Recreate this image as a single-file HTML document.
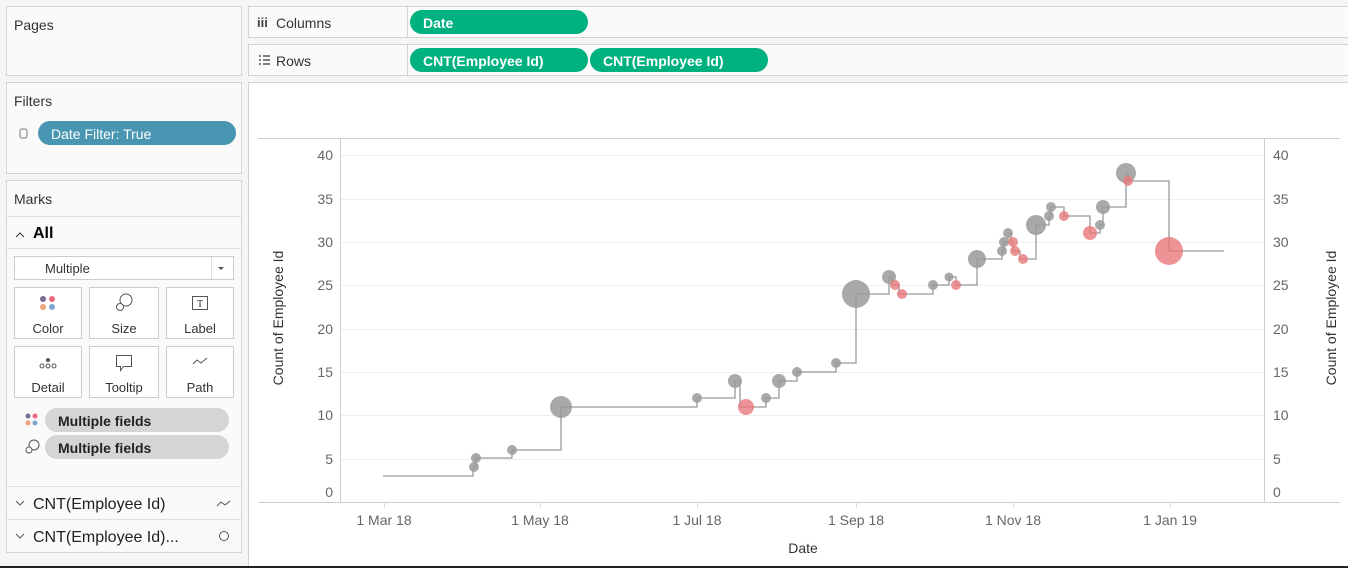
<!DOCTYPE html>
<html><head><meta charset="utf-8"><style>
html,body{margin:0;padding:0;background:#f5f5f5;width:1348px;height:568px;overflow:hidden;font-family:"Liberation Sans",sans-serif;}
</style></head><body>
<svg width="1348" height="568" xmlns="http://www.w3.org/2000/svg" font-family="Liberation Sans, sans-serif">
<rect width="1348" height="568" fill="#f5f5f5"/>
<!-- left panels -->
<rect x="6.5" y="6.5" width="235" height="69" fill="#fafafa" stroke="#d4d4d4"/>
<text x="14" y="30" font-size="14" fill="#333">Pages</text>
<rect x="6.5" y="82.5" width="235" height="91" fill="#fafafa" stroke="#d4d4d4"/>
<text x="14" y="106" font-size="14" fill="#333">Filters</text>
<rect x="20" y="129" width="7" height="9" rx="2" fill="none" stroke="#777"/>
<rect x="38" y="121" width="198" height="24" rx="12" fill="#4996b2"/>
<text x="51" y="139" font-size="14" fill="#fff">Date Filter: True</text>
<rect x="6.5" y="180.5" width="235" height="372" fill="#fafafa" stroke="#d4d4d4"/>
<text x="14" y="204" font-size="14" fill="#333">Marks</text>
<line x1="7" y1="216.5" x2="241" y2="216.5" stroke="#e0e0e0"/>
<path d="M16 237 l4 -4 l4 4" fill="none" stroke="#333"/>
<text x="33" y="238" font-size="16" font-weight="bold" fill="#000">All</text>
<line x1="7" y1="248.5" x2="241" y2="248.5" stroke="#e0e0e0"/>
<rect x="14.5" y="256.5" width="219" height="23" fill="#fff" stroke="#ccc"/>
<line x1="211.5" y1="257" x2="211.5" y2="279" stroke="#ddd"/>
<path d="M218 267 h6 l-3 3z" fill="#555"/>
<text x="45" y="273" font-size="13" fill="#333">Multiple</text>
<g font-size="13" fill="#333" text-anchor="middle">
<rect x="14.5" y="287.5" width="67" height="51" fill="#fff" stroke="#ccc"/>
<circle cx="43" cy="299" r="3" fill="#7b6b8f"/><circle cx="52" cy="299" r="3" fill="#e8697d"/>
<circle cx="43" cy="307" r="3" fill="#f0a07a"/><circle cx="52" cy="307" r="3" fill="#7ea6d1"/>
<text x="48" y="333">Color</text>
<rect x="89.5" y="287.5" width="69" height="51" fill="#fff" stroke="#ccc"/>
<circle cx="126" cy="300" r="6" fill="none" stroke="#555"/><circle cx="120" cy="307" r="3.5" fill="#fff" stroke="#555"/>
<text x="124" y="333">Size</text>
<rect x="166.5" y="287.5" width="67" height="51" fill="#fff" stroke="#ccc"/>
<rect x="192.5" y="296.5" width="15" height="13" fill="none" stroke="#555"/><text x="200" y="307" font-size="10" font-family="Liberation Serif, serif">T</text>
<text x="200" y="333">Label</text>
<rect x="14.5" y="346.5" width="67" height="51" fill="#fff" stroke="#ccc"/>
<circle cx="48" cy="360" r="2" fill="#555"/><circle cx="42" cy="366" r="2" fill="none" stroke="#555"/><circle cx="48" cy="366" r="2" fill="none" stroke="#555"/><circle cx="54" cy="366" r="2" fill="none" stroke="#555"/>
<text x="48" y="392">Detail</text>
<rect x="89.5" y="346.5" width="69" height="51" fill="#fff" stroke="#ccc"/>
<path d="M116.5 355.5 h15 v11 h-8 l-3 4 v-4 h-4z" fill="none" stroke="#555"/>
<text x="124" y="392">Tooltip</text>
<rect x="166.5" y="346.5" width="67" height="51" fill="#fff" stroke="#ccc"/>
<path d="M193 364 l4 -4 l4 3 l6 -5" fill="none" stroke="#555"/>
<text x="200" y="392">Path</text>
</g>
<circle cx="28" cy="416" r="2.5" fill="#7b6b8f"/><circle cx="35" cy="416" r="2.5" fill="#e8697d"/>
<circle cx="28" cy="423" r="2.5" fill="#f0a07a"/><circle cx="35" cy="423" r="2.5" fill="#7ea6d1"/>
<rect x="45" y="408" width="184" height="24" rx="12" fill="#d5d5d5"/>
<text x="58" y="426" font-size="14" font-weight="bold" fill="#222">Multiple fields</text>
<circle cx="34" cy="445" r="5" fill="none" stroke="#555"/><circle cx="29" cy="450" r="3" fill="#fafafa" stroke="#555"/>
<rect x="45" y="435" width="184" height="24" rx="12" fill="#d5d5d5"/>
<text x="58" y="453" font-size="14" font-weight="bold" fill="#222">Multiple fields</text>
<line x1="7" y1="486.5" x2="241" y2="486.5" stroke="#e0e0e0"/>
<path d="M16 501 l4 4 l4 -4" fill="none" stroke="#555"/>
<text x="33" y="509" font-size="16" fill="#222">CNT(Employee Id)</text>
<path d="M217 506 l4 -4 l4 3 l5 -4" fill="none" stroke="#555"/>
<line x1="7" y1="519.5" x2="241" y2="519.5" stroke="#e0e0e0"/>
<path d="M16 534 l4 4 l4 -4" fill="none" stroke="#555"/>
<text x="33" y="542" font-size="16" fill="#222">CNT(Employee Id)...</text>
<circle cx="224" cy="536" r="4.5" fill="none" stroke="#555"/>
<!-- shelves -->
<rect x="248.5" y="6.5" width="1100" height="31" fill="#fafafa" stroke="#d4d4d4"/>
<line x1="407.5" y1="7" x2="407.5" y2="37" stroke="#d4d4d4"/>
<text x="257" y="27" font-size="13" font-weight="bold" fill="#444">iii</text>
<text x="276" y="28" font-size="14" fill="#333">Columns</text>
<rect x="410" y="10" width="178" height="24" rx="12" fill="#00b180"/>
<text x="423" y="28" font-size="14" font-weight="bold" fill="#fff">Date</text>
<rect x="248.5" y="44.5" width="1100" height="31" fill="#fafafa" stroke="#d4d4d4"/>
<line x1="407.5" y1="45" x2="407.5" y2="75" stroke="#d4d4d4"/>
<g stroke="#555" stroke-width="1.5"><line x1="259" y1="56" x2="261" y2="56"/><line x1="263" y1="56" x2="270" y2="56"/><line x1="259" y1="60" x2="261" y2="60"/><line x1="263" y1="60" x2="270" y2="60"/><line x1="259" y1="64" x2="261" y2="64"/><line x1="263" y1="64" x2="270" y2="64"/></g>
<text x="276" y="66" font-size="14" fill="#333">Rows</text>
<rect x="410" y="48" width="178" height="24" rx="12" fill="#00b180"/>
<text x="423" y="66" font-size="14" font-weight="bold" fill="#fff">CNT(Employee Id)</text>
<rect x="590" y="48" width="178" height="24" rx="12" fill="#00b180"/>
<text x="603" y="66" font-size="14" font-weight="bold" fill="#fff">CNT(Employee Id)</text>
<!-- chart area -->
<rect x="248.5" y="82.5" width="1100" height="485" fill="#fff" stroke="#d4d4d4"/>
<line x1="258" y1="138.5" x2="1340" y2="138.5" stroke="#ccc"/>
<g stroke="#eee">
<line x1="341" y1="155.5" x2="1264" y2="155.5"/><line x1="341" y1="199.5" x2="1264" y2="199.5"/>
<line x1="341" y1="242.5" x2="1264" y2="242.5"/><line x1="341" y1="285.5" x2="1264" y2="285.5"/>
<line x1="341" y1="329.5" x2="1264" y2="329.5"/><line x1="341" y1="372.5" x2="1264" y2="372.5"/>
<line x1="341" y1="415.5" x2="1264" y2="415.5"/><line x1="341" y1="459.5" x2="1264" y2="459.5"/>
</g>
<line x1="340.5" y1="138" x2="340.5" y2="502" stroke="#ccc"/>
<line x1="1264.5" y1="138" x2="1264.5" y2="502" stroke="#ccc"/>
<line x1="259" y1="502.5" x2="1340" y2="502.5" stroke="#ccc"/>
<g stroke="#ddd"><line x1="384.5" y1="503" x2="384.5" y2="508"/><line x1="540.5" y1="503" x2="540.5" y2="508"/><line x1="697.5" y1="503" x2="697.5" y2="508"/><line x1="856.5" y1="503" x2="856.5" y2="508"/><line x1="1013.5" y1="503" x2="1013.5" y2="508"/><line x1="1170.5" y1="503" x2="1170.5" y2="508"/></g>
<g font-size="14" fill="#666" text-anchor="end">
<text x="333" y="160">40</text><text x="333" y="204">35</text><text x="333" y="247">30</text><text x="333" y="290">25</text><text x="333" y="334">20</text><text x="333" y="377">15</text><text x="333" y="420">10</text><text x="333" y="464">5</text><text x="333" y="497">0</text>
</g>
<g font-size="14" fill="#666">
<text x="1273" y="160">40</text><text x="1273" y="204">35</text><text x="1273" y="247">30</text><text x="1273" y="290">25</text><text x="1273" y="334">20</text><text x="1273" y="377">15</text><text x="1273" y="420">10</text><text x="1273" y="464">5</text><text x="1273" y="497">0</text>
</g>
<g font-size="14" fill="#666" text-anchor="middle">
<text x="384" y="525">1 Mar 18</text><text x="540" y="525">1 May 18</text><text x="697" y="525">1 Jul 18</text><text x="856" y="525">1 Sep 18</text><text x="1013" y="525">1 Nov 18</text><text x="1170" y="525">1 Jan 19</text>
<text x="803" y="553" fill="#333">Date</text>
<text transform="translate(283,318) rotate(-90)" fill="#333">Count of Employee Id</text>
<text transform="translate(1336,318) rotate(-90)" fill="#333">Count of Employee Id</text>
</g>
<!-- step line -->
<path fill="none" stroke="#999" stroke-width="1.3" d="M383 476 H473 V467 H476 V458 H512 V450 H561 V407 H697 V398 H735 V381 H740 V407 H766 V398 H779 V381 H797 V372 H836 V363 H856 V294 H889 V277 H892 V285 H899 V294 H933 V285 H949 V277 H956 V285 H977 V259 H1002 V251 H1004 V242 H1008 V233 H1011 V242 H1013 V251 H1020 V259 H1036 V225 H1049 V216 H1051 V207 H1064 V216 H1090 V233 H1100 V225 H1103 V207 H1126 V173 H1128 V181 H1169 V251 H1224"/>
<g fill="#9a9a9a" fill-opacity="0.85">
<circle cx="474" cy="467" r="5"/><circle cx="476" cy="458" r="5"/><circle cx="512" cy="450" r="5"/>
<circle cx="561" cy="407" r="11"/><circle cx="697" cy="398" r="5"/><circle cx="735" cy="381" r="7"/>
<circle cx="766" cy="398" r="5"/><circle cx="779" cy="381" r="7"/><circle cx="797" cy="372" r="5"/>
<circle cx="836" cy="363" r="5"/><circle cx="856" cy="294" r="14"/><circle cx="889" cy="277" r="7"/>
<circle cx="933" cy="285" r="5"/><circle cx="949" cy="277" r="4.5"/><circle cx="977" cy="259" r="9"/>
<circle cx="1002" cy="251" r="5"/><circle cx="1004" cy="242" r="5"/><circle cx="1008" cy="233" r="5"/>
<circle cx="1036" cy="225" r="10"/><circle cx="1049" cy="216" r="5"/><circle cx="1051" cy="207" r="5"/>
<circle cx="1100" cy="225" r="5"/><circle cx="1103" cy="207" r="7"/><circle cx="1126" cy="173" r="10"/>
</g>
<g fill="#e8787b" fill-opacity="0.8">
<circle cx="746" cy="407" r="8"/><circle cx="895" cy="285" r="5"/><circle cx="902" cy="294" r="5"/>
<circle cx="956" cy="285" r="5"/><circle cx="1013" cy="242" r="5"/><circle cx="1015" cy="251" r="5"/>
<circle cx="1023" cy="259" r="5"/><circle cx="1064" cy="216" r="5"/><circle cx="1090" cy="233" r="7"/>
<circle cx="1128" cy="181" r="5"/><circle cx="1169" cy="251" r="14"/>
</g>
<line x1="0" y1="567" x2="1348" y2="567" stroke="#222" stroke-width="2"/>
</svg>
</body></html>
